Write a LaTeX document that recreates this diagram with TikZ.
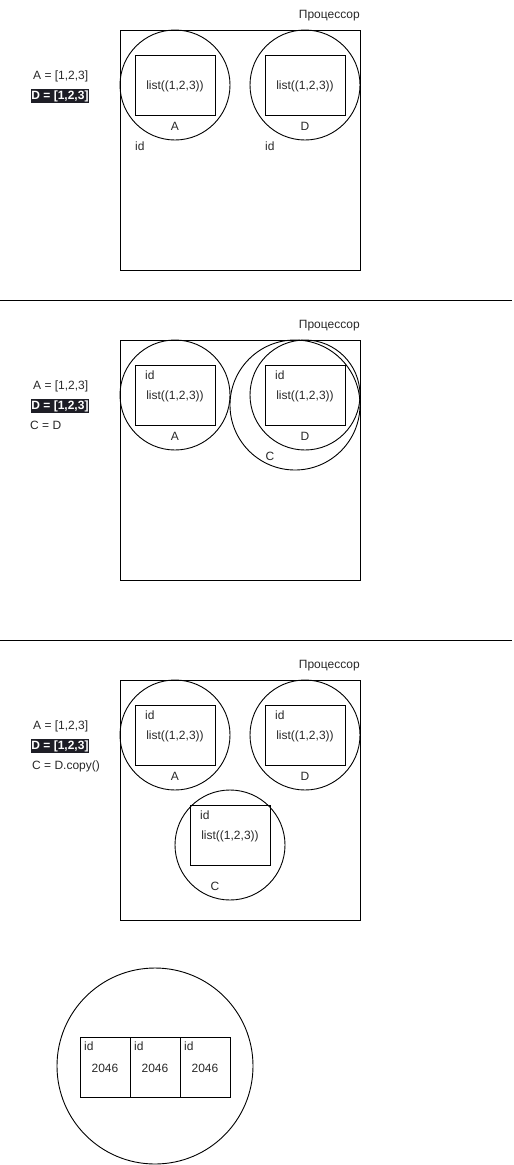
\documentclass[tikz,border=0pt]{standalone}
\usepackage{fontspec}
\setmainfont{Liberation Sans}
\definecolor{txt}{RGB}{40,40,40}
\definecolor{hl}{RGB}{30,30,38}
\begin{document}
\begin{tikzpicture}[x=1pt,y=-1pt,
  every node/.style={font=\fontsize{12}{14}\selectfont, text=txt, inner sep=0pt, yshift=-1pt},
  proc/.style={draw, line width=0.9pt, minimum width=240pt, minimum height=240pt, yshift=1pt},
  obj/.style={draw, circle, line width=0.9pt, minimum size=110pt, yshift=1pt},
  bigobj/.style={draw, circle, line width=0.9pt, minimum size=130pt, yshift=1pt},
  cell/.style={draw, line width=0.9pt, minimum width=80pt, minimum height=60pt, yshift=1pt},
  hlbox/.style={fill=hl, text=white, font=\fontsize{12}{14}\selectfont\bfseries, inner xsep=0.5pt, inner ysep=1.5pt},
  lbl/.style={anchor=west}
]
\useasboundingbox (0,0) rectangle (514,1165);
% ---------------- Panel 1 ----------------
\node[proc] (P1) at (240,150) {};
\node[anchor=east] (P1t) at (360,15) {Процессор};
\node (cA1) [obj] at (175,85) {};
\node (cD1) [obj] at (305,85) {};
\node (rA1) [cell] at (175,85) {};
\node (rD1) [cell] at (305,85) {};
\node (tA1) at (175,85) {list((1,2,3))};
\node (tD1) at (305,85) {list((1,2,3))};
\node (lA1) at (175,125) {A};
\node (lD1) at (305,125) {D};
\node (iA1) [lbl] at (135,145) {id};
\node (iD1) [lbl] at (265,145) {id};
\node (a1) [lbl] at (33,75) {A = [1,2,3]};
\node (d1) [hlbox] at (60,95) {D = [1,2,3]};
\draw[line width=0.8pt] (0,300) -- (512,300);
% ---------------- Panel 2 ----------------
\node[proc] (P2) at (240,460) {};
\node[anchor=east] (P2t) at (360,325) {Процессор};
\node (cA2) [obj] at (175,395) {};
\node (cC2) [bigobj] at (295,405) {};
\node (cD2) [obj] at (305,395) {};
\node (rA2) [cell] at (175,395) {};
\node (rD2) [cell] at (305,395) {};
\node (tA2) at (175,395) {list((1,2,3))};
\node (tD2) at (305,395) {list((1,2,3))};
\node (iA2) [lbl] at (145,374) {id};
\node (iD2) [lbl] at (275,374) {id};
\node (lA2) at (175,435) {A};
\node (lD2) at (305,435) {D};
\node (lC2) at (270,455) {C};
\node (a2) [lbl] at (33,385) {A = [1,2,3]};
\node (d2) [hlbox] at (60,405) {D = [1,2,3]};
\node (c2) [lbl] at (30,424) {C = D};
\draw[line width=0.8pt] (0,640) -- (512,640);
% ---------------- Panel 3 ----------------
\node[proc] (P3) at (240,800) {};
\node[anchor=east] (P3t) at (360,665) {Процессор};
\node (cA3) [obj] at (175,735) {};
\node (cD3) [obj] at (305,735) {};
\node (cC3) [obj] at (230,845) {};
\node (rA3) [cell] at (175,735) {};
\node (rD3) [cell] at (305,735) {};
\node (rC3) [cell] at (230,835) {};
\node (tA3) at (175,735) {list((1,2,3))};
\node (tD3) at (305,735) {list((1,2,3))};
\node (tC3) at (230,835) {list((1,2,3))};
\node (iA3) [lbl] at (145,714) {id};
\node (iD3) [lbl] at (275,714) {id};
\node (iC3) [lbl] at (200,814) {id};
\node (lA3) at (175,775) {A};
\node (lD3) at (305,775) {D};
\node (lC3) at (215,885) {C};
\node (a3) [lbl] at (33,725) {A = [1,2,3]};
\node (d3) [hlbox] at (60,745) {D = [1,2,3]};
\node (c3) [lbl] at (32,765) {C = D.copy()};
% ---------------- Bottom ----------------
\node (big) [draw, circle, line width=0.9pt, minimum size=196pt, yshift=1pt] at (155,1066) {};
\node (b1) [draw, line width=0.9pt, minimum width=50pt, minimum height=60pt, yshift=1pt] at (105,1067) {};
\node (b2) [draw, line width=0.9pt, minimum width=50pt, minimum height=60pt, yshift=1pt] at (155,1067) {};
\node (b3) [draw, line width=0.9pt, minimum width=50pt, minimum height=60pt, yshift=1pt] at (205,1067) {};
\node (bi1) [lbl] at (84,1045) {id};
\node (bi2) [lbl] at (134,1045) {id};
\node (bi3) [lbl] at (184,1045) {id};
\node (bn1) at (105,1067) {2046};
\node (bn2) at (155,1067) {2046};
\node (bn3) at (205,1067) {2046};
\end{tikzpicture}
\end{document}
